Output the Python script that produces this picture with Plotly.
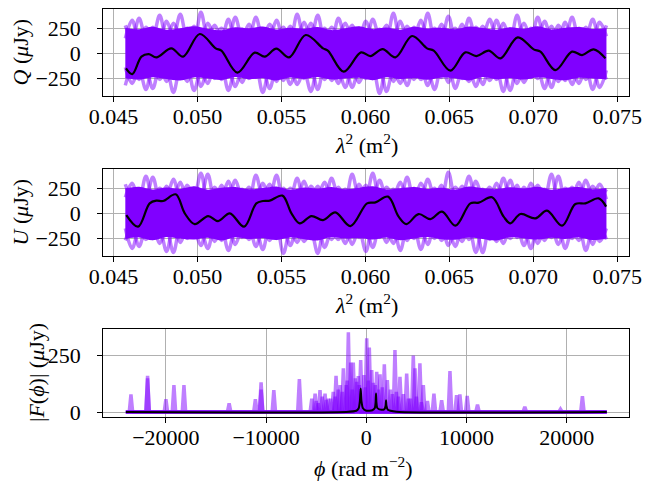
import numpy as np
import plotly.graph_objects as go

# ---------------- data ----------------
LAM2_MIN, LAM2_MAX = 0.04571, 0.07435
PHI_MIN, PHI_MAX = -24000, 24000

# Q: black (mean/model) curve
Q_black_lam2 = [0.04575, 0.04613, 0.04667, 0.0471, 0.04756, 0.04845, 0.04915, 0.05014, 0.05109, 0.05143,
                0.05238, 0.05341, 0.05401, 0.0547, 0.05546, 0.05645, 0.05748, 0.05778, 0.05871, 0.05974,
                0.0603, 0.06103, 0.06179, 0.06278, 0.06367, 0.06407, 0.06506, 0.06595, 0.06661, 0.06734,
                0.06804, 0.06907, 0.07002, 0.07042, 0.07131, 0.0723, 0.0729, 0.07359, 0.07429]
Q_black = [-150, -207, -33, -7, -40, 50, -33, 193, 50, 27,
           -193, 7, -33, 47, -40, 183, 50, 25, -183, 10,
           -27, 43, -40, 173, 50, 27, -173, 10, -27, 27,
           -50, 160, 40, 17, -167, 17, -17, 40, -50]

# U: black curve
U_black_lam2 = [0.04577, 0.04647, 0.04716, 0.04756, 0.04796, 0.04871, 0.04925, 0.04984, 0.05064, 0.05123,
                0.05193, 0.05278, 0.05351, 0.05391, 0.05431, 0.05506, 0.0556, 0.05609, 0.05679, 0.05748,
                0.05821, 0.05911, 0.0601, 0.0606, 0.06135, 0.06198, 0.06244, 0.06317, 0.06387, 0.06456,
                0.06536, 0.06625, 0.06675, 0.06754, 0.06823, 0.06863, 0.06923, 0.07012, 0.07081, 0.07171,
                0.0725, 0.0731, 0.07389, 0.07433]
U_black = [-17, -133, 100, 127, 123, 190, 0, -107, -27, -77,
           0, -133, 100, 123, 127, 177, 0, -100, -27, -67,
           10, -127, 100, 110, 167, -33, -107, -7, -57, 17,
           -123, 100, 107, 160, -33, -100, -7, -50, 27, -123,
           93, 100, 150, 67]

# noise realisations: dense core envelope
Q_band_hi = [255, 240, 265, 235, 250, 270, 245, 230, 260, 250, 268, 238, 255, 245, 262, 232, 250, 270,
             242, 258, 236, 265, 248, 255, 240, 268, 252, 236, 260, 246, 270, 238, 255, 262, 244, 250]
Q_band_lo = [-245, -262, -238, -255, -270, -240, -252, -265, -235, -258, -248, -270, -242, -255, -236, -262, -250, -244,
             -268, -238, -256, -246, -264, -240, -252, -270, -236, -258, -248, -262, -240, -255, -268, -244, -250, -258]
U_band_hi = [250, 266, 238, 258, 244, 270, 236, 255, 262, 240, 252, 268, 234, 258, 246, 264, 240, 255,
             270, 238, 250, 262, 244, 256, 236, 268, 250, 242, 260, 248, 266, 236, 254, 262, 240, 252]
U_band_lo = [-255, -240, -268, -236, -252, -262, -244, -270, -238, -256, -248, -265, -240, -258, -270, -236, -252, -246,
             -262, -240, -268, -250, -236, -258, -264, -242, -255, -270, -238, -250, -262, -244, -256, -240, -266, -250]

# noise realisations: outer excursions
Q_up1 = [150, 330, 120, 260, 170, 380, 140, 300, 180, 250, 130, 410, 160, 280, 150, 340, 120, 240, 170, 360,
         140, 290, 180, 260, 130, 390, 150, 300, 160, 250, 120, 350, 170, 280, 140, 320, 180, 240, 150, 400,
         130, 270, 160, 330, 170, 250, 140, 370, 150, 290, 120, 260, 180, 340, 160, 300, 130, 380, 150, 250,
         170, 320, 140, 280, 160, 360, 150, 260, 130, 310, 170]
Q_up2 = [280, 140, 350, 160, 260, 130, 320, 170, 390, 150, 270, 120, 300, 180, 250, 140, 360, 160, 290, 130,
         240, 170, 330, 150, 270, 140, 310, 160, 380, 120, 260, 180, 300, 150, 250, 130, 340, 170, 280, 140,
         320, 160, 260, 150, 400, 130, 290, 170, 250, 140, 350, 160, 270, 120, 330, 150, 240, 180, 300, 140,
         360, 160, 270, 130, 310, 150, 250, 170, 340, 140, 280]
Q_dn1 = [-140, -300, -160, -360, -130, -260, -170, -390, -150, -280, -120, -330, -180, -250, -140, -370, -160, -290, -130, -240,
         -170, -350, -150, -270, -120, -310, -180, -380, -140, -260, -160, -300, -130, -340, -170, -250, -150, -400, -120, -280,
         -160, -320, -140, -260, -180, -360, -130, -290, -150, -250, -170, -330, -140, -270, -160, -380, -120, -300, -150, -240,
         -170, -350, -140, -280, -160, -310, -130, -260, -150, -340, -170]
Q_dn2 = [-320, -150, -260, -170, -350, -130, -280, -160, -240, -140, -370, -180, -300, -120, -260, -150, -330, -170, -250, -140,
         -390, -160, -280, -130, -310, -170, -250, -150, -360, -120, -270, -180, -340, -140, -290, -160, -250, -130, -380, -170,
         -300, -150, -260, -140, -320, -160, -240, -120, -350, -180, -280, -150, -310, -130, -260, -170, -370, -140, -290, -160,
         -250, -130, -340, -150, -270, -170, -300, -140, -360, -160, -260]
U_up1 = [160, 300, 130, 370, 150, 250, 180, 340, 140, 280, 170, 400, 120, 260, 160, 320, 150, 240, 130, 380,
         170, 290, 140, 250, 160, 350, 120, 270, 180, 310, 150, 260, 130, 390, 170, 280, 140, 330, 160, 240,
         150, 360, 120, 300, 180, 250, 140, 410, 160, 270, 130, 320, 170, 260, 150, 350, 140, 280, 120, 300,
         180, 240, 160, 370, 130, 260, 150, 330, 170, 290, 140]
U_up2 = [290, 150, 240, 170, 360, 130, 270, 160, 310, 140, 250, 180, 390, 120, 280, 150, 330, 170, 260, 140,
         300, 160, 380, 130, 250, 170, 320, 150, 270, 120, 350, 180, 240, 140, 290, 160, 400, 130, 260, 170,
         310, 150, 250, 140, 340, 160, 280, 120, 260, 180, 370, 150, 240, 130, 300, 170, 330, 140, 260, 160,
         280, 150, 390, 120, 250, 170, 310, 140, 270, 160, 240]
U_dn1 = [-150, -350, -170, -260, -130, -300, -160, -390, -140, -250, -180, -320, -120, -280, -150, -370, -170, -240, -140, -330,
         -160, -270, -130, -400, -170, -290, -150, -250, -120, -340, -180, -260, -140, -310, -160, -380, -130, -240, -170, -300,
         -150, -270, -140, -360, -160, -250, -120, -320, -180, -280, -150, -390, -130, -260, -170, -300, -140, -240, -160, -350,
         -150, -270, -130, -310, -170, -250, -140, -370, -160, -280, -150]
U_dn2 = [-270, -140, -330, -160, -250, -170, -380, -130, -290, -150, -240, -180, -350, -140, -270, -120, -310, -160, -260, -170,
         -360, -130, -250, -150, -320, -140, -280, -180, -400, -120, -260, -160, -300, -150, -240, -170, -340, -130, -290, -140,
         -370, -160, -250, -150, -310, -120, -270, -180, -330, -140, -260, -160, -390, -130, -280, -170, -250, -150, -320, -140,
         -300, -160, -240, -130, -350, -170, -270, -150, -310, -140, -260]

# Faraday spectrum: black curve
phi_black = [-24000, -2000, -1000, -750, -640, -560, -480, -350, 0, 600, 850, 930, 970, 1010, 1100,
             1500, 1800, 1930, 1970, 2010, 2150, 3000, 24000]
F_black = [2, 3, 8, 20, 50, 105, 50, 20, 8, 10, 20, 45, 83, 45, 20, 12, 15, 30, 54, 30, 12, 4, 2]

# Faraday spectrum: realisation peaks (phi, |F|)
peaks_phi_A = [-23490, -21830, -20000, -19200, -18200, -13690, -11070, -10500, -9230, -6680, -3020, -1790,
               40, 2860, 4690, 5350, 8350, 9340, 10070, 11100, 15820, 19380, 21570]
peaks_F_A = [79, 161, 58, 120, 120, 40, 58, 132, 98, 146, 161, 351, 325, 273, 249, 215, 181, 79, 73, 35, 25, 15, 72]
peaks_phi_B = [-21830, -10500, -5440, -4620, -3550, -2290, -1300, -560, 300, 1040, 1800, 3360, 4860, 6750, 7520, 9010]
peaks_F_B = [150, 100, 61, 98, 61, 193, 219, 230, 284, 178, 211, 156, 193, 83, 54, 76]
peaks_phi_C = [-5110, -4120, -2620, -1560, -960, -230, 540, 1370, 2100, 4030, 5690]
peaks_F_C = [83, 83, 120, 219, 134, 164, 186, 167, 142, 171, 120]
peaks_phi_D = [-5000, -4400, -3800, -3300, -2800, -2000, -1100, -700, -100, 700, 1600, 2400, 3000, 3700, 4400, 5000, 6100]
peaks_F_D = [50, 70, 60, 90, 100, 120, 150, 120, 110, 130, 110, 100, 90, 80, 60, 70, 50]
peaks_phi_E = [-4800, -4000, -3100, -2400, -1900, -1400, -800, 200, 900, 1200, 2600, 3200, 4200, 5500]
peaks_F_E = [40, 55, 70, 90, 140, 100, 160, 140, 120, 100, 80, 70, 60, 45]

# ---------------- styling ----------------
PURPLE = "#8000ff"
LIGHT = "rgba(128,0,255,0.5)"
FONT = "Liberation Serif"
FS = 22


def spike_series(phis, heights, hw=170, floor=3):
    xs, ys = [PHI_MIN], [floor]
    for p, h in sorted(zip(phis, heights)):
        xs += [p - hw, p, p + hw]
        ys += [floor, h, floor]
    xs.append(PHI_MAX)
    ys.append(floor)
    return xs, ys


fig = go.Figure()


def add_lam_panel(xa, ya, up1, up2, dn1, dn2, band_hi, band_lo, bx, by):
    for arr in (up1, up2, dn1, dn2):
        g = np.linspace(LAM2_MIN, LAM2_MAX, len(arr))
        fig.add_trace(go.Scatter(x=g, y=arr, mode="lines", xaxis=xa, yaxis=ya,
                                 line=dict(color=LIGHT, width=3.5, shape="spline", smoothing=1.0),
                                 showlegend=False, hoverinfo="skip"))
    gb = np.linspace(LAM2_MIN, LAM2_MAX, len(band_hi))
    fig.add_trace(go.Scatter(x=gb, y=band_lo, mode="lines", xaxis=xa, yaxis=ya,
                             line=dict(color=PURPLE, width=0, shape="spline"), showlegend=False))
    fig.add_trace(go.Scatter(x=gb, y=band_hi, mode="lines", xaxis=xa, yaxis=ya, fill="tonexty",
                             fillcolor=PURPLE, line=dict(color=PURPLE, width=0, shape="spline"),
                             showlegend=False))
    fig.add_trace(go.Scatter(x=bx, y=by, mode="lines", xaxis=xa, yaxis=ya,
                             line=dict(color="black", width=2.2, shape="spline", smoothing=1.0),
                             showlegend=False))


add_lam_panel("x", "y", Q_up1, Q_up2, Q_dn1, Q_dn2, Q_band_hi, Q_band_lo, Q_black_lam2, Q_black)
add_lam_panel("x2", "y2", U_up1, U_up2, U_dn1, U_dn2, U_band_hi, U_band_lo, U_black_lam2, U_black)

for phis, hs in [(peaks_phi_A, peaks_F_A), (peaks_phi_B, peaks_F_B), (peaks_phi_C, peaks_F_C),
                 (peaks_phi_D, peaks_F_D), (peaks_phi_E, peaks_F_E)]:
    sx, sy = spike_series(phis, hs)
    fig.add_trace(go.Scatter(x=sx, y=sy, mode="lines", xaxis="x3", yaxis="y3",
                             line=dict(color=LIGHT, width=3.5), showlegend=False))
fig.add_trace(go.Scatter(x=phi_black, y=F_black, mode="lines", xaxis="x3", yaxis="y3",
                         line=dict(color="black", width=2, shape="spline", smoothing=0.6),
                         showlegend=False))

# ---------------- axes ----------------
XD = [103.3 / 651, 629.3 / 651]
YD1 = [1 - 95.7 / 491, 1 - 9.3 / 491]
YD2 = [1 - 255.7 / 491, 1 - 169.3 / 491]
YD3 = [1 - 416.7 / 491, 1 - 329.3 / 491]

common = dict(showline=True, linecolor="black", linewidth=1.1, mirror=True,
              ticks="outside", ticklen=5, tickwidth=1.1, tickcolor="black",
              showgrid=True, gridcolor="#b0b0b0", gridwidth=1, zeroline=False, automargin=False,
              tickfont=dict(family=FONT, size=FS, color="black"))

lam_ticks = [0.045, 0.05, 0.055, 0.06, 0.065, 0.07, 0.075]
lam_text = ["0.045", "0.050", "0.055", "0.060", "0.065", "0.070", "0.075"]
qu_ticks = [-250, 0, 250]
qu_text = ["\u2212250", "0", "250"]
phi_ticks = [-20000, -10000, 0, 10000, 20000]
phi_text = ["\u221220000", "\u221210000", "0", "10000", "20000"]

XSO = -4
YSO = 12

fig.update_layout(
    width=651, height=491, margin=dict(l=0, r=0, t=0, b=0, autoexpand=False),
    paper_bgcolor="white", plot_bgcolor="white", showlegend=False,
    xaxis=dict(domain=XD, anchor="y", range=[0.04440, 0.07571], tickvals=lam_ticks, ticktext=lam_text,
               ticklabelstandoff=XSO, **common),
    yaxis=dict(domain=YD1, anchor="x", range=[-423, 440], tickvals=qu_ticks, ticktext=qu_text,
               ticklabelstandoff=YSO, **common),
    xaxis2=dict(domain=XD, anchor="y2", range=[0.04440, 0.07571], tickvals=lam_ticks, ticktext=lam_text,
                ticklabelstandoff=XSO, **common),
    yaxis2=dict(domain=YD2, anchor="x2", range=[-423, 440], tickvals=qu_ticks, ticktext=qu_text,
                ticklabelstandoff=YSO, **common),
    xaxis3=dict(domain=XD, anchor="y3", range=[-26250, 26250], tickvals=phi_ticks, ticktext=phi_text,
                ticklabelstandoff=XSO, **common),
    yaxis3=dict(domain=YD3, anchor="x3", range=[-18, 364], tickvals=[0, 250], ticktext=["0", "250"],
                ticklabelstandoff=YSO, **common),
)

tf = dict(family=FONT, size=FS, color="black")
titles = [
    ("<i>Q</i> (<i>\u03bc</i>Jy)", 20 / 651, 1 - 52.5 / 491, -90),
    ("<i>U</i> (<i>\u03bc</i>Jy)", 20 / 651, 1 - 212.5 / 491, -90),
    ("|<i>F</i>(<i>\u03d5</i>)| (<i>\u03bc</i>Jy)", 36 / 651, 1 - 373 / 491, -90),
    ("<i>\u03bb</i><sup>2</sup> (m<sup>2</sup>)", 366.3 / 651, 1 - 144 / 491, 0),
    ("<i>\u03bb</i><sup>2</sup> (m<sup>2</sup>)", 366.3 / 651, 1 - 304 / 491, 0),
    ("<i>\u03d5</i> (rad m<sup>\u22122</sup>)", 364 / 651, 1 - 467 / 491, 0),
]
for text, x, y, ang in titles:
    fig.add_annotation(text=text, x=x, y=y, xref="paper", yref="paper", showarrow=False,
                       textangle=ang, font=tf, xanchor="center", yanchor="middle")

fig.write_html("out.html")
